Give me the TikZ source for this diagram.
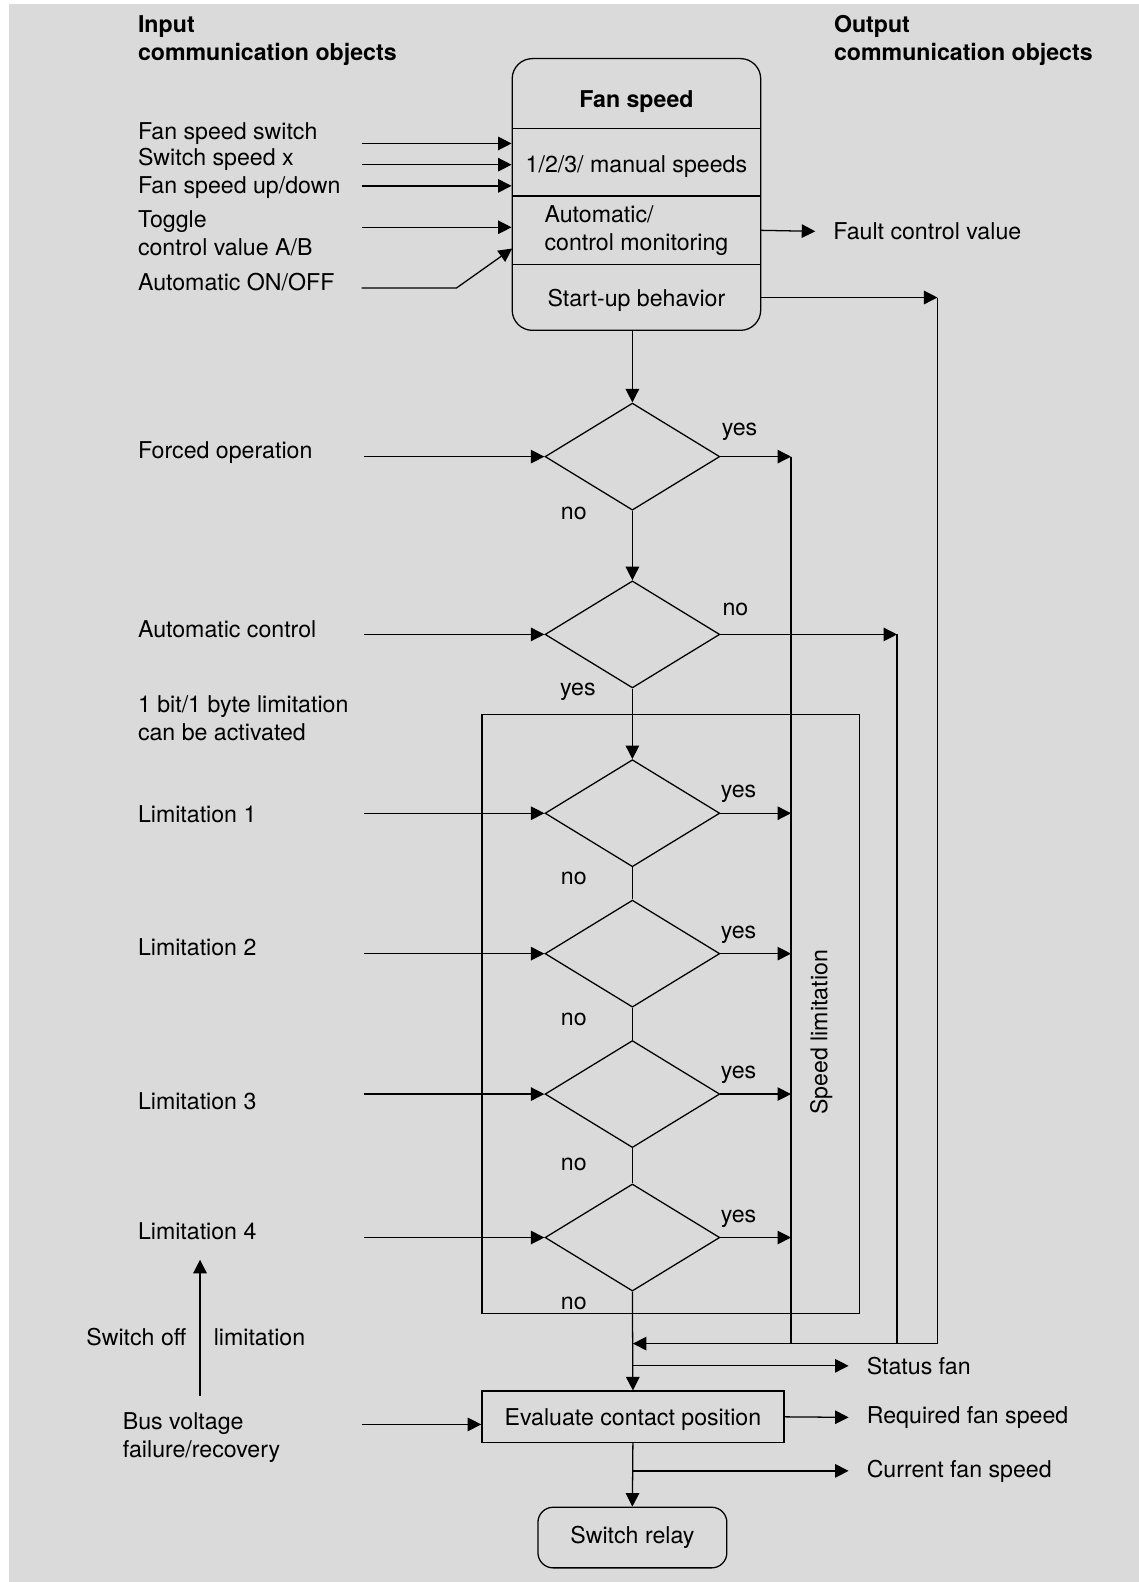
\documentclass[tikz,border=0pt]{standalone}
\usepackage{fontspec}
\setmainfont{TeX Gyre Heros}
\usetikzlibrary{arrows.meta,positioning,shapes.geometric,fit}

\definecolor{panelgray}{RGB}{218,218,218}
\def\px{0.025cm}
\def\labelfont{\fontsize{16.3}{19.8}\selectfont}

\begin{document}
\begin{tikzpicture}[x=\px,y=-\px,line width=0.9pt,>={Triangle[length=9.5pt,width=9.5pt]},font=\labelfont]
    \tikzstyle{annot}=[anchor=west, inner sep=0pt, align=left]
    \tikzstyle{part}=[minimum width=246*\px, inner sep=0pt, outer sep=0pt, align=center]
    \tikzstyle{decision}=[diamond, draw, minimum width=173*\px, minimum height=106*\px, inner sep=0pt]
    \tikzstyle{process}=[draw, inner sep=0pt]
    \tikzstyle{outlbl}=[anchor=west, inner sep=0pt, outer xsep=0.45cm]

    % Background panel
    \fill[white] (0,0) rectangle (1127,1566);
    \fill[panelgray] (9,4) rectangle (1127,1566);
    \useasboundingbox (0,0) rectangle (1127,1566);

    \node[annot, font=\labelfont\bfseries] (hd-in) at (136,40) {Input\\communication objects};
    \node[annot, font=\labelfont\bfseries] (hd-out) at (825,40) {Output\\communication objects};

    % Fan speed block
    \node[part, minimum height=69*\px, label={[yshift=-0.2cm, font=\labelfont\bfseries]center:Fan speed}] (fs-title) at (630,92.5) {};
    \node[part, minimum height=67*\px, below=0pt of fs-title, label={[yshift=-0.12cm]center:1/2/3/ manual speeds}] (fs-manual) {};
    \node[part, minimum height=68*\px, below=0pt of fs-manual, label={[align=left]center:Automatic/\\control monitoring}] (fs-auto) {};
    \node[part, minimum height=65*\px, below=0pt of fs-auto, label={[yshift=-0.07cm]center:Start-up behavior}] (fs-start) {};
    \node[draw, rounded corners=0.5cm, inner sep=0pt, fit=(fs-title)(fs-start)] (fan) {};
    \foreach \part in {fs-title,fs-manual,fs-auto}
        \draw (\part.south west) -- (\part.south east);

    \node[annot] (in-switch) at (136,132) {Fan speed switch};
    \node[annot] (in-speedx) at (136,158) {Switch speed x};
    \node[annot] (in-updown) at (136,186) {Fan speed up/down};
    \node[annot] (in-toggle) at (136,231) {Toggle\\control value A/B};
    \node[annot] (in-auto) at (136,279) {Automatic ON/OFF};

    \foreach \name/\y in {switch/142,speedx/163,updown/184,toggle/225} {
        \coordinate (src-\name) at (358,\y);
        \draw[->] (src-\name) -- (src-\name -| fan.west);
    }
    \coordinate (src-auto) at (358,285);
    \coordinate (bend-auto) at (452,285);
    \draw[->] (src-auto) -- (bend-auto) -- ([yshift=0.4cm]fs-auto.south west);

    \node[outlbl] (fault) at (807,229) {Fault control value};
    \draw[->] (fs-auto.east) -- (fault.west);

    % Decisions
    \node[decision] (d-forced) at (626,452) {};
    \node[decision] (d-auto) at (626,628) {};
    \foreach \name/\y in {1/805,2/944,3/1083,4/1225}
        \node[decision] (d-lim\name) at (626,\y) {};

    \node[annot] (in-forced) at (136,448) {Forced operation};
    \node[annot] (in-autoctl) at (136,623) {Automatic control};
    \node[annot] (in-enable) at (136,711) {1 bit/1 byte limitation\\can be activated};
    \foreach \name/\y in {1/806,2/938,3/1090,4/1219}
        \node[annot] (in-lim\name) at (136,\y) {Limitation \name};

    \coordinate (feed) at (360,0);
    \coordinate (rail-a) at (783,1330);
    \coordinate (rail-b) at (888,1330);
    \coordinate (rail-c) at (928,1330);

    \foreach \d in {forced,auto,lim1,lim2,lim3,lim4}
        \draw[->] (d-\d.west -| feed) -- (d-\d.west);

    \node (yes-forced) at (732,427) {yes};
    \node (no-forced) at (568,508) {no};
    \node (no-auto) at (728,603) {no};
    \node (yes-auto) at (572,685) {yes};
    \foreach \name/\y/\ny in {1/805/870,2/944/1009,3/1083/1153,4/1225/1290} {
        \node (yes-lim\name) at (731,\y-19) {yes};
        \node (no-lim\name) at (568,\ny) {no};
    }

    % Speed limitation frame
    \node[draw, minimum width=374*\px, minimum height=593*\px, inner sep=0pt] (speedlim) at (664,1003.5) {};
    \node[rotate=90] (speedlim-text) at (813,1022) {Speed limitation};

    % Main flow
    \draw[->] (d-forced.north |- fan.south) -- (d-forced.north);
    \draw[->] (d-forced.south) -- (d-auto.north);
    \draw[->] (d-auto.south) -- (d-lim1.north);
    \foreach \a/\b in {1/2,2/3,3/4}
        \draw (d-lim\a.south) -- (d-lim\b.north);

    % Rails to the right
    \foreach \d in {forced,lim1,lim2,lim3,lim4}
        \draw[->] (d-\d.east) -- (d-\d.east -| rail-a);
    \draw (d-forced.east -| rail-a) -- (rail-a);
    \draw[->] (d-auto.east) -- (d-auto.east -| rail-b);
    \draw (d-auto.east -| rail-b) -- (rail-b);
    \draw[->] (fs-start.east) -- (fs-start.east -| rail-c);
    \draw (fs-start.east -| rail-c) -- (rail-c);

    % Evaluation and relay
    \node[process, minimum width=299*\px, minimum height=51*\px, text depth=0pt] (eval) at (626.5,1402.5) {Evaluate contact position};
    \node[process, rounded corners=0.375cm, minimum width=187*\px, minimum height=60*\px] (relay) at (626,1522) {Switch relay};

    \draw[->] (d-lim4.south) -- (eval.north);
    \draw[->] (rail-c) -- (rail-c -| eval.north);
    \draw[->] (eval.south) -- (relay.north);

    \coordinate (tap-status) at (626,1352);
    \coordinate (tap-current) at (626,1456);
    \node[outlbl] (out-status) at (840,1352) {Status fan};
    \node[outlbl] (out-required) at (840,1403) {Required fan speed};
    \node[outlbl] (out-current) at (840,1456) {Current fan speed};
    \draw[->] (tap-status) -- (out-status.west);
    \draw[->] (eval.east) -- (out-required.west);
    \draw[->] (tap-current) -- (out-current.west);

    \node[annot] (in-bus) at (121,1423) {Bus voltage\\failure/recovery};
    \coordinate (src-bus) at (358,1410);
    \draw[->] (src-bus) -- (src-bus -| eval.west);

    \coordinate (reset-a) at (198,1382);
    \coordinate (reset-b) at (198,1247);
    \draw[->] (reset-a) -- (reset-b);
    \node[anchor=east, inner sep=0pt] (reset-l) at (185,1324) {Switch off};
    \node[annot] (reset-r) at (211,1324) {limitation};
\end{tikzpicture}
\end{document}
